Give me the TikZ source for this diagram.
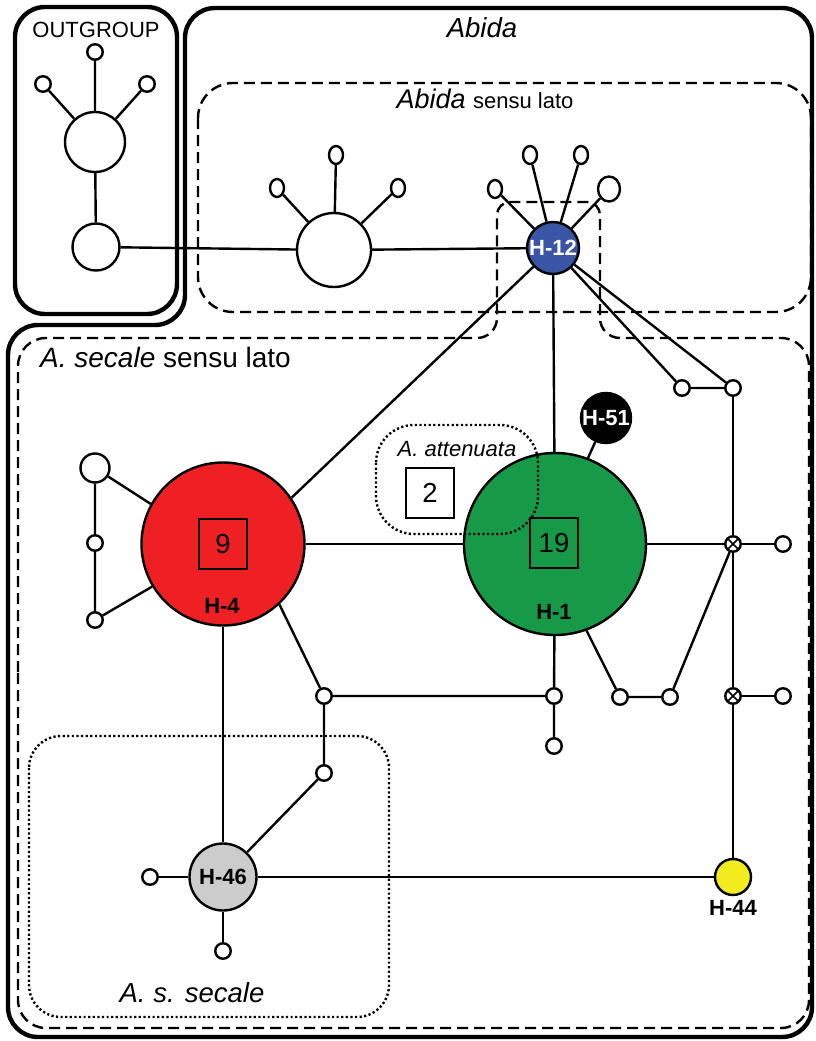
\documentclass[tikz,border=0pt]{standalone}
\usepackage{fontspec}
\setmainfont{Liberation Sans}
\usetikzlibrary{shapes.geometric}
\definecolor{hblue}{HTML}{3A55A5}
\definecolor{hred}{HTML}{EE2024}
\definecolor{hgreen}{HTML}{179A48}
\definecolor{hyellow}{HTML}{F2EB1D}
\definecolor{hgray}{HTML}{CCCCCC}
\begin{document}
\begin{tikzpicture}[x=1pt,y=-1pt,
  thickbox/.style={line width=4.4pt},
  dashbox/.style={line width=2.4pt, dash pattern=on 11pt off 6pt},
  dotbox/.style={line width=2.4pt, dash pattern=on 2.2pt off 2.4pt},
  link/.style={line width=2.4pt},
  hap/.style={circle, draw, line width=2.4pt, fill=white, minimum size=15.5pt, inner sep=0pt},
  hapv/.style={ellipse, draw, line width=2.4pt, fill=white, minimum width=14pt, minimum height=18pt, inner sep=0pt},
  xhap/.style={hap, path picture={\draw[line width=1.6pt]
      (path picture bounding box.north west) -- (path picture bounding box.south east)
      (path picture bounding box.south west) -- (path picture bounding box.north east);}},
  lbl/.style={font=\fontsize{22}{25}\selectfont\bfseries, inner sep=0pt},
  countbox/.style={draw, line width=2.2pt, minimum width=48pt, minimum height=50pt, inner sep=0pt, font=\fontsize{27.5}{30}\selectfont},
  title/.style={inner sep=0pt, anchor=base}]
\useasboundingbox (0,0) rectangle (816,1041);

% ---- group outlines ----
\draw[thickbox, rounded corners=30] (15,7) rectangle (177,314);
\draw[thickbox, rounded corners=30] (185,120) -- (185,8) -- (812,8) -- (812,1037) -- (8,1037) -- (8,325) -- (185,325) -- cycle;
\draw[dashbox, rounded corners=35] (198,83) rectangle (811,312);
\draw[dashbox, rounded corners=28] (18,700) -- (18,338)
  [rounded corners=20] -- (497,338)
  [rounded corners=13] -- (497,202) -- (600,202)
  [rounded corners=20] -- (600,338)
  [rounded corners=28] -- (809,338) -- (809,1028) -- (18,1028) -- cycle;
\draw[dotbox, rounded corners=32] (29,736) rectangle (389,1017);

% ---- group titles ----
\node[title, font=\fontsize{22}{26}\selectfont] at (96,38) {OUTGROUP};
\node[title, font=\fontsize{27.5}{30}\selectfont\itshape] at (482,38) {Abida};
\node[title] at (485,108) {\fontsize{27}{30}\selectfont\itshape Abida \fontsize{22}{26}\selectfont\upshape sensu lato};
\node[title, anchor=base west, font=\fontsize{28}{32}\selectfont] at (40,367) {\itshape A. secale \upshape sensu lato};
\node[title, font=\fontsize{27.5}{30}\selectfont\itshape] at (192,1002) {A. s. secale};

% ---- outgroup haplotypes ----
\node[hap] (og1) at (95,52) {};
\node[hap] (og2) at (43,84) {};
\node[hap] (og3) at (147,84) {};
\node[hap, minimum size=60pt] (ogc) at (95,142) {};
\node[hap, minimum size=47pt] (ogb) at (96,247) {};

% ---- Abida sensu lato haplotypes ----
\node[hap, minimum size=74pt] (ab) at (334,250) {};
\node[hapv] (ab1) at (336,155) {};
\node[hapv] (ab2) at (277,188) {};
\node[hapv] (ab3) at (398,188) {};
\node[hap, fill=hblue, minimum size=52pt, lbl, text=white] (h12) at (553,248) {H-12};
\node[hapv] (s1) at (495,189) {};
\node[hapv] (s2) at (530,155) {};
\node[hapv] (s3) at (581,155) {};
\node[hapv, minimum width=22pt, minimum height=25pt] (s4) at (609,189) {};

% ---- A. secale haplotypes ----
\node[hap, fill=hred, minimum size=163pt] (h4) at (223,544) {};
\node[countbox] at (223,544) {9};
\node[lbl] at (222,606) {H-4};
\node[hap, fill=hgreen, minimum size=182pt] (h1) at (555,544) {};
\node[countbox] at (554,543) {19};
\node[lbl] at (554,612) {H-1};
\node[hap, fill=black, minimum size=47pt, lbl, text=white] (h51) at (606,418) {H-51};
\node[hap] (t1) at (682,388) {};
\node[hap] (t2) at (733,388) {};
\node[xhap] (x1) at (733,544) {};
\node[xhap] (x2) at (733,696) {};
\node[hap] (r1) at (783,544) {};
\node[hap] (r2) at (783,696) {};
\node[hap] (b3) at (670,697) {};
\node[hap] (b2) at (620,697) {};
\node[hap] (b1) at (554,696) {};
\node[hap] (b0) at (554,746) {};
\node[hap] (m1) at (324,696) {};
\node[hap] (m2) at (324,773) {};
\node[hap, fill=hgray, minimum size=67pt, lbl] (h46) at (223,877) {H-46};
\node[hap] (l1) at (150,877) {};
\node[hap] (l2) at (223,951) {};
\node[hap, fill=hyellow, minimum size=36pt] (h44) at (733,877) {};
\node[lbl] at (733,908) {H-44};
\node[hap, minimum size=29pt] (h4a) at (95,468) {};
\node[hap] (h4b) at (95,543) {};
\node[hap] (h4c) at (95,620) {};

% ---- mutational links ----
\draw[link] (og1) -- (ogc) (og2) -- (ogc) (og3) -- (ogc) (ogc) -- (ogb);
\draw[link] (ogb) -- (ab);
\draw[link] (ab1) -- (ab) (ab2) -- (ab) (ab3) -- (ab) (ab) -- (h12);
\draw[link] (s1) -- (h12) (s2) -- (h12) (s3) -- (h12) (s4) -- (h12);
\draw[link] (h12) -- (h4.34);
\draw[link] (h12) -- (h1);
\draw[link] (h12) -- (t1) (h12) -- (t2) (t1) -- (t2);
\draw[link] (t2) -- (x1) (x1) -- (x2) (x2) -- (h44);
\draw[link] (h1) -- (x1) (x1) -- (r1) (x2) -- (r2);
\draw[link] (x1) -- (b3) (b3) -- (b2) (b2) -- (h1.-70);
\draw[link] (h1) -- (b1) (b1) -- (b0);
\draw[link] (m1) -- (b1) (h4.-47) -- (m1) (m1) -- (m2) (m2) -- (h46);
\draw[link] (h4) -- (h46) (h46) -- (l1) (h46) -- (l2) (h46) -- (h44);
\draw[link] (h4a) -- (h4.151) (h4a) -- (h4b) (h4b) -- (h4c) (h4c) -- (h4.211);
\draw[link] (h4) -- (h1);
\draw[link] (h51) -- (h1.69);

% ---- A. attenuata group (drawn over H-1) ----
\draw[dotbox, rounded corners=38] (376,425) rectangle (538,534);
\node[title, font=\fontsize{22}{25}\selectfont\itshape] at (457,456) {A. attenuata};
\node[countbox, fill=white] at (430,493) {2};
\end{tikzpicture}
\end{document}
